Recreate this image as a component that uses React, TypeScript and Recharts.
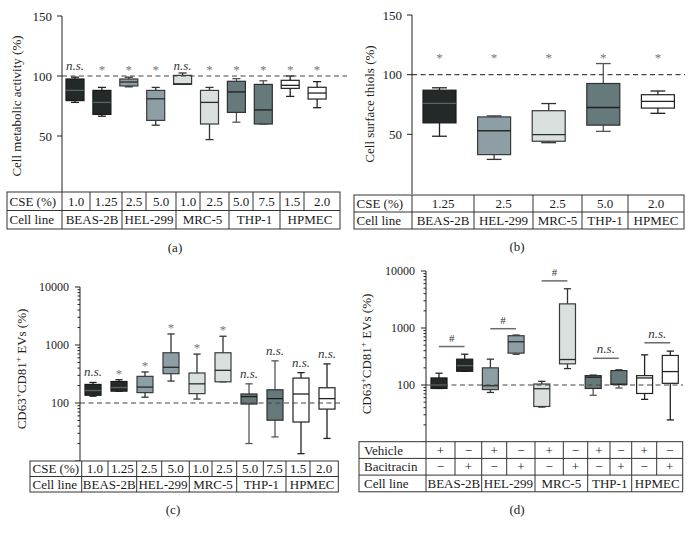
import React from 'react'
import { ComposedChart, Bar, XAxis, YAxis, ReferenceLine } from 'recharts'

const cellLines = ['BEAS-2B', 'HEL-299', 'MRC-5', 'THP-1', 'HPMEC']
const pairedLines = cellLines.flatMap(l => [l, l])

// (a) cell metabolic activity — [min, q1, median, q3, max]
const cseDosesA = ['1.0', '1.25', '2.5', '5.0', '1.0', '2.5', '5.0', '7.5', '1.5', '2.0']
const metabolicStats = [
  [78, 79.5, 88, 97.5, 99],
  [66.5, 68, 78, 88, 90.5],
  [91, 91.7, 95, 97.5, 99],
  [59, 63, 81, 88, 90.5],
  [93, 93, 93.5, 100.5, 102.5],
  [47, 60, 78, 88, 90.5],
  [61.5, 69.7, 86.7, 95.6, 97.8],
  [60, 60, 71.7, 93, 96],
  [83, 89.7, 92.2, 96.4, 100],
  [73.6, 80.8, 85.8, 90.6, 95.3],
]
const metabolicSig = ['n.s.', '*', '*', '*', 'n.s.', '*', '*', '*', '*', '*']

// (b) cell surface thiols
const cseDosesB = ['1.25', '2.5', '2.5', '5.0', '2.0']
const thiolStats = [
  [48.4, 59.6, 76, 87, 89],
  [29, 33, 53, 64.6, 65.4],
  [43, 44.2, 49.7, 69.8, 75.8],
  [52.5, 57.7, 72.5, 92.6, 109.3],
  [67.6, 72, 77.7, 83.2, 86.3],
]
const thiolSig = ['*', '*', '*', '*', '*']

// (c) CD63+CD81+ EVs after CSE
const cseDosesC = ['1.0', '1.25', '2.5', '5.0', '1.0', '2.5', '5.0', '7.5', '1.5', '2.0']
const evStats = [
  [131, 136, 164, 209, 226],
  [160, 160, 185, 235, 252],
  [126, 151, 188, 288, 343],
  [239, 320, 413, 735, 1550],
  [117, 145, 214, 329, 697],
  [232, 232, 366, 735, 1416],
  [20, 96, 129, 143, 214],
  [26, 50.5, 119, 169, 533],
  [13.4, 47, 143, 269, 334],
  [24.5, 78.5, 119, 183, 472],
]
const evSig = ['n.s.', '*', '*', '*', '*', '*', 'n.s.', 'n.s.', 'n.s.', 'n.s.']

// (d) vehicle vs bacitracin
const vehicle = ['+', '−', '+', '−', '+', '−', '+', '−', '+', '−']
const bacitracin = ['−', '+', '−', '+', '−', '+', '−', '+', '−', '+']
const bacitracinStats = [
  [87, 87, 100, 133, 161],
  [174, 174, 219, 284, 347],
  [74, 83, 97, 200, 284],
  [347, 362, 574, 732, 752],
  [41, 42, 86, 104, 116],
  [194, 235, 280, 2650, 4880],
  [66, 87, 137, 146, 150],
  [88.5, 102, 103, 179, 186],
  [56, 71, 133, 146, 338],
  [24.4, 107, 172, 330, 393],
]
const bracketPairs = [
  { from: 0, to: 1, at: 473, text: '#' },
  { from: 2, to: 3, at: 972, text: '#' },
  { from: 4, to: 5, at: 6710, text: '#' },
  { from: 6, to: 7, at: 294, text: 'n.s.' },
  { from: 8, to: 9, at: 551, text: 'n.s.' },
]

const linearTicks = [50, 100, 150]
const logTicks = [
  10, 20, 30, 40, 50, 60, 70, 80, 90,
  100, 200, 300, 400, 500, 600, 700, 800, 900,
  1000, 2000, 3000, 4000, 5000, 6000, 7000, 8000, 9000, 10000,
]
const logLabels = [100, 1000, 10000]

const lineStyle: Record<string, { fill: string; stroke: string; median: string; whisker: string }> = {
  'BEAS-2B': { fill: '#232828', stroke: '#1a1a1a', median: '#5c6262', whisker: '#222' },
  'HEL-299': { fill: '#8d9ea5', stroke: '#3a3a3a', median: '#2a2a2a', whisker: '#333' },
  'MRC-5': { fill: '#d9e0de', stroke: '#3a3a3a', median: '#2a2a2a', whisker: '#333' },
  'THP-1': { fill: '#677a7b', stroke: '#2e2e2e', median: '#1e1e1e', whisker: '#555' },
  'HPMEC': { fill: '#ffffff', stroke: '#222', median: '#222', whisker: '#222' },
}

const serif = '"Liberation Serif", "Times New Roman", Tinos, "DejaVu Serif", serif'

const buildRows = (stats: number[][], lines: string[], sig?: string[]) =>
  stats.map((s, i) => ({ key: `g${i}`, line: lines[i], range: [s[0], s[4]], stats: s, sig: sig ? sig[i] : '' }))

const rowsA = buildRows(metabolicStats, pairedLines, metabolicSig)
const rowsB = buildRows(thiolStats, cellLines, thiolSig)
const rowsC = buildRows(evStats, pairedLines, evSig)
const rowsD = buildRows(bacitracinStats, pairedLines)

function BoxShape(p: any) {
  const { x, y, width, height, payload, log, sigAt, sigGap } = p
  if (!payload) return null
  const [lo, q1, med, q3, hi] = payload.stats
  const top = Math.min(y, y + height)
  const bot = Math.max(y, y + height)
  const f = (v: number) => (log ? Math.log10(v) : v)
  const py = (v: number) => top + ((bot - top) * (f(hi) - f(v))) / (f(hi) - f(lo))
  const cx = x + width / 2
  const cap = width * 0.45
  const st = lineStyle[payload.line]
  const sigY = sigAt != null ? py(sigAt) : top - (sigGap ?? 9)
  const isNs = payload.sig === 'n.s.'
  return (
    <g>
      <line x1={cx} x2={cx} y1={py(hi)} y2={py(q3)} stroke={st.whisker} strokeWidth={1.3} />
      <line x1={cx} x2={cx} y1={py(q1)} y2={py(lo)} stroke={st.whisker} strokeWidth={1.3} />
      <line x1={cx - cap / 2} x2={cx + cap / 2} y1={py(hi)} y2={py(hi)} stroke={st.whisker} strokeWidth={1.3} />
      <line x1={cx - cap / 2} x2={cx + cap / 2} y1={py(lo)} y2={py(lo)} stroke={st.whisker} strokeWidth={1.3} />
      <rect x={x} y={py(q3)} width={width} height={Math.max(py(q1) - py(q3), 0.5)}
        fill={st.fill} stroke={st.stroke} strokeWidth={1.2} />
      <line x1={x} x2={x + width} y1={py(med)} y2={py(med)} stroke={st.median} strokeWidth={1.3} />
      {payload.sig ? (
        <text x={cx} y={sigY + (isNs ? 3 : 7)} textAnchor="middle" fontSize={13}
          fontStyle={isNs ? 'italic' : 'normal'} fill={isNs ? '#333' : '#777'}>
          {payload.sig}
        </text>
      ) : null}
    </g>
  )
}

function AxisTick(p: any) {
  const { x, y, payload, labels, majors, fs, gap } = p
  const v = payload.value
  const major = majors.includes(v)
  return (
    <g>
      <line x1={x - (major ? 5 : 2.5)} x2={x} y1={y} y2={y} stroke="#222" strokeWidth={1} />
      {labels.includes(v) ? (
        <text x={x - gap} y={y + fs * 0.35} textAnchor="end" fontSize={fs} fill="#222">{v}</text>
      ) : null}
    </g>
  )
}

function DataTable({ left, top, rowH, pad, rows }: any) {
  const right = rows[0].bounds[rows[0].bounds.length - 1]
  return (
    <g fontSize={13} fill="#1a1a1a">
      <rect x={left} y={top} width={right - left} height={rowH * rows.length} fill="#fff" stroke="#333" strokeWidth={1} />
      {rows.map((r: any, ri: number) => {
        const ty = top + ri * rowH
        return (
          <g key={ri}>
            {ri > 0 ? <line x1={left} x2={right} y1={ty} y2={ty} stroke="#333" /> : null}
            <text x={left + pad} y={ty + rowH / 2 + 4.5}>{r.label}</text>
            {r.cells.map((c: string, ci: number) => {
              const a = r.bounds[ci]
              const b = r.bounds[ci + 1]
              return (
                <g key={ci}>
                  <line x1={a} x2={a} y1={ty} y2={ty + rowH} stroke="#333" />
                  <text x={(a + b) / 2} y={ty + rowH / 2 + 4.5} textAnchor="middle">{c}</text>
                </g>
              )
            })}
          </g>
        )
      })}
    </g>
  )
}

function EvTitle({ x, y }: { x: number; y: number }) {
  return (
    <text transform={`translate(${x},${y}) rotate(-90)`} textAnchor="middle" fontSize={13} fill="#222" dy={4}>
      CD63<tspan dy={-5} fontSize={9}>+</tspan>
      <tspan dy={5}>CD81</tspan><tspan dy={-5} fontSize={9}>+</tspan>
      <tspan dy={5}> EVs (%)</tspan>
    </text>
  )
}

const pos = (l: number, t: number): React.CSSProperties => ({ position: 'absolute', left: l, top: t })

export default function App() {
  return (
    <div style={{ position: 'absolute', left: 0, top: 0, width: 693, height: 535, background: '#fff', fontFamily: serif }}>
      <div style={pos(0, 0)}>
        <ComposedChart width={350} height={200} data={rowsA} margin={{ top: 16, right: 3, bottom: 4, left: 0 }}>
          <XAxis dataKey="key" hide padding={{ left: 0, right: 16 }} />
          <YAxis width={62} domain={[0, 150]} ticks={linearTicks} tickLine={false} tickSize={0} tickMargin={0}
            axisLine={{ stroke: '#222' }} interval={0}
            tick={<AxisTick labels={linearTicks} majors={linearTicks} fs={13} gap={10} />} />
          <ReferenceLine y={100} stroke="#444" strokeDasharray="5 3.5" strokeWidth={1.2} />
          <Bar dataKey="range" barSize={18} isAnimationActive={false}
            shape={(p: any) => <BoxShape {...p} sigAt={107.5} />} />
        </ComposedChart>
      </div>

      <div style={pos(350, 0)}>
        <ComposedChart width={343} height={200} data={rowsB} margin={{ top: 15, right: 8, bottom: 6, left: 0 }}>
          <XAxis dataKey="key" hide />
          <YAxis width={62} domain={[0, 150]} ticks={linearTicks} tickLine={false} tickSize={0} tickMargin={0}
            axisLine={{ stroke: '#222' }} interval={0}
            tick={<AxisTick labels={linearTicks} majors={linearTicks} fs={13} gap={10} />} />
          <ReferenceLine y={100} stroke="#444" strokeDasharray="5 3.5" strokeWidth={1.2} />
          <Bar dataKey="range" barSize={33} isAnimationActive={false}
            shape={(p: any) => <BoxShape {...p} sigAt={116.5} />} />
        </ComposedChart>
      </div>

      <div style={pos(0, 270)}>
        <ComposedChart width={350} height={200} data={rowsC} margin={{ top: 17, right: 10, bottom: 9, left: 0 }}>
          <XAxis dataKey="key" hide />
          <YAxis width={80} scale="log" domain={[10, 10000]} ticks={logTicks} allowDataOverflow
            tickLine={false} tickSize={0} tickMargin={0} axisLine={{ stroke: '#222' }} interval={0}
            tick={<AxisTick labels={logLabels} majors={[10, 100, 1000, 10000]} fs={12} gap={11} />} />
          <ReferenceLine y={100} stroke="#444" strokeDasharray="5 3.5" strokeWidth={1.2} />
          <Bar dataKey="range" barSize={16} isAnimationActive={false}
            shape={(p: any) => <BoxShape {...p} log sigGap={9} />} />
        </ComposedChart>
      </div>

      <div style={pos(350, 260)}>
        <ComposedChart width={343} height={200} data={rowsD} margin={{ top: 11, right: 10, bottom: 18, left: 0 }}>
          <XAxis dataKey="key" hide />
          <YAxis width={76} scale="log" domain={[10, 10000]} ticks={logTicks} allowDataOverflow
            tickLine={false} tickSize={0} tickMargin={0} axisLine={{ stroke: '#222' }} interval={0}
            tick={<AxisTick labels={logLabels} majors={[10, 100, 1000, 10000]} fs={12} gap={11} />} />
          <ReferenceLine y={100} stroke="#444" strokeDasharray="5 3.5" strokeWidth={1.2} />
          {bracketPairs.map(b => (
            <ReferenceLine key={b.from}
              segment={[{ x: rowsD[b.from].key, y: b.at }, { x: rowsD[b.to].key, y: b.at }]}
              stroke="#6b6b6b" strokeWidth={1.5}
              label={{ value: b.text, position: 'top', fill: '#333', fontSize: b.text === '#' ? 11 : 13, fontStyle: b.text === '#' ? 'normal' : 'italic' }} />
          ))}
          <Bar dataKey="range" barSize={16} isAnimationActive={false}
            shape={(p: any) => <BoxShape {...p} log />} />
        </ComposedChart>
      </div>

      <svg width={693} height={535} style={pos(0, 0)}>
        <text transform="translate(17,106) rotate(-90)" textAnchor="middle" fontSize={13} fill="#222" dy={4}>
          Cell metabolic activity (%)
        </text>
        <text transform="translate(370,104) rotate(-90)" textAnchor="middle" fontSize={13} fill="#222" dy={4}>
          Cell surface thiols (%)
        </text>
        <EvTitle x={22} y={369} />
        <EvTitle x={367} y={354} />

        <DataTable left={7} top={192} rowH={18.5} pad={2.5} rows={[
          { label: 'CSE (%)', cells: cseDosesA, bounds: [62, 90, 122, 146, 176, 200, 229, 253, 280, 304, 340] },
          { label: 'Cell line', cells: cellLines, bounds: [62, 122, 176, 229, 280, 340] },
        ]} />
        <DataTable left={354} top={195} rowH={17} pad={2.5} rows={[
          { label: 'CSE (%)', cells: cseDosesB, bounds: [412, 474, 533, 582, 628, 684] },
          { label: 'Cell line', cells: cellLines, bounds: [412, 474, 533, 582, 628, 684] },
        ]} />
        <DataTable left={30} top={461} rowH={15.5} pad={2.5} rows={[
          { label: 'CSE (%)', cells: cseDosesC, bounds: [81.7, 108, 136.7, 161.7, 189.3, 212, 236.7, 263.3, 286, 310, 338.3] },
          { label: 'Cell line', cells: cellLines, bounds: [81.7, 136.7, 189.3, 236.7, 286, 338.3] },
        ]} />
        <DataTable left={359} top={441.7} rowH={16.7} pad={5} rows={[
          { label: 'Vehicle', cells: vehicle, bounds: [426, 455, 481.7, 506.7, 535, 563.3, 587.7, 610, 631.7, 656.7, 682.7] },
          { label: 'Bacitracin', cells: bacitracin, bounds: [426, 455, 481.7, 506.7, 535, 563.3, 587.7, 610, 631.7, 656.7, 682.7] },
          { label: 'Cell line', cells: cellLines, bounds: [426, 481.7, 535, 587.7, 631.7, 682.7] },
        ]} />

        <g fontSize={13} fill="#222" textAnchor="middle">
          <text x={175} y={252}>(a)</text>
          <text x={517} y={251}>(b)</text>
          <text x={173} y={514}>(c)</text>
          <text x={517} y={514}>(d)</text>
        </g>
      </svg>
    </div>
  )
}
